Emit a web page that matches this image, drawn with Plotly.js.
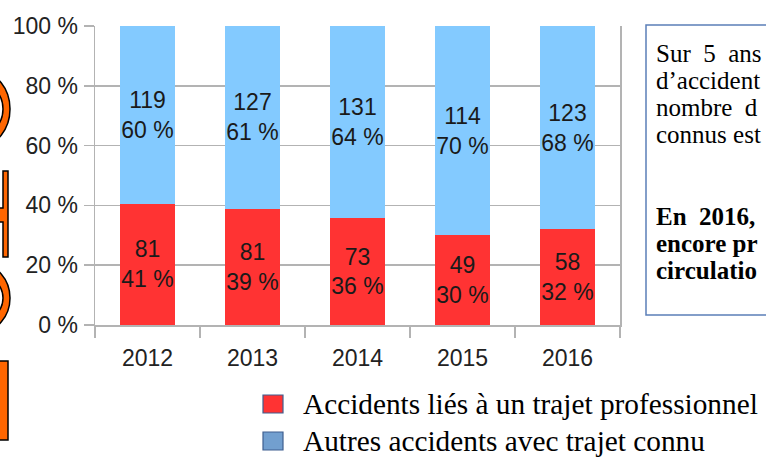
<!DOCTYPE html>
<html>
<head>
<meta charset="utf-8">
<script src="https://cdn.plot.ly/plotly-3.0.1.min.js"></script>
<style>
html,body{margin:0;padding:0;background:#fff;}
#chart{width:766px;height:457px;}
</style>
</head>
<body>
<div id="chart"></div>
<script>
// ---- data ----
const years = ["2012", "2013", "2014", "2015", "2016"];
const proCounts = [81, 81, 73, 49, 58];
const proPct = [41, 39, 36, 30, 32];
const otherCounts = [119, 127, 131, 114, 123];
const otherPct = [60, 61, 64, 70, 68];
const yTicks = [0, 20, 40, 60, 80, 100];
const yTickText = ["0 %", "20 %", "40 %", "60 %", "80 %", "100 %"];
const seriesNames = ["Accidents liés à un trajet professionnel", "Autres accidents avec trajet connu"];
const boxLines1 = ["Sur  5  ans", "d’accident", "nombre  d", "connus est"];
const boxLines2 = ["En  2016,", "encore pr", "circulatio"];

// ---- geometry helpers (pixel -> paper) ----
const L = 95, R = 620, T = 26, B = 325, W = 766, H = 457;
const px = x => (x - L) / (R - L);
const py = y => (B - y) / (B - T);

const redCol = "#ff3333", blueCol = "#83caff", legBlue = "#729fcf";
const sans = "Liberation Sans, Arial, sans-serif";
const serif = "Liberation Serif, Times New Roman, serif";

const traces = [
  {
    type: "bar", x: years, y: proCounts, name: seriesNames[0],
    marker: {color: redCol},
    text: proCounts.map((c, i) => c + "<br>" + proPct[i] + " %"),
    textposition: "inside", insidetextanchor: "middle", textangle: 0,
    constraintext: "none",
    textfont: {family: sans, size: 23, color: "#1a1a1a"},
    hoverinfo: "skip", showlegend: false
  },
  {
    type: "bar", x: years, y: otherCounts, name: seriesNames[1],
    marker: {color: blueCol},
    text: otherCounts.map((c, i) => c + "<br>" + otherPct[i] + " %"),
    textposition: "inside", insidetextanchor: "middle", textangle: 0,
    constraintext: "none",
    textfont: {family: sans, size: 23, color: "#1a1a1a"},
    hoverinfo: "skip", showlegend: false
  }
];

const shapes = [];
const annotations = [];

// text box on the right
shapes.push({type: "rect", xref: "paper", yref: "paper",
  x0: px(646), x1: px(800), y0: py(315), y1: py(25),
  line: {color: "#5b7fb8", width: 1.5}, fillcolor: "rgba(0,0,0,0)"});
boxLines1.forEach((t, i) => annotations.push({
  xref: "paper", yref: "paper", x: px(654), y: py(53 + i * 27),
  xanchor: "left", yanchor: "middle", showarrow: false, text: t,
  font: {family: serif, size: 25, color: "#000"}
}));
boxLines2.forEach((t, i) => annotations.push({
  xref: "paper", yref: "paper", x: px(654), y: py(216 + i * 27),
  xanchor: "left", yanchor: "middle", showarrow: false, text: "<b>" + t + "</b>",
  font: {family: serif, size: 25, color: "#000"}
}));

// legend (drawn manually)
const legCols = [redCol, legBlue];
seriesNames.forEach((n, i) => {
  const cy = 404 + i * 37;
  shapes.push({type: "rect", xref: "paper", yref: "paper",
    x0: px(263), x1: px(283), y0: py(cy + 9), y1: py(cy - 9),
    line: {color: "#3f5f8f", width: 1.2}, fillcolor: legCols[i]});
  annotations.push({xref: "paper", yref: "paper", x: px(301), y: py(cy),
    xanchor: "left", yanchor: "middle", showarrow: false, text: n,
    font: {family: serif, size: 29.3, color: "#000"}});
});

// orange decorative glyph fragments on the left edge
const orange = "#ff6600";
function ring(y0, y1, xr, thick) {
  shapes.push({type: "circle", xref: "paper", yref: "paper",
    x0: px(xr - 60), x1: px(xr), y0: py(y1), y1: py(y0),
    line: {color: "#000", width: 1.5}, fillcolor: orange});
  shapes.push({type: "circle", xref: "paper", yref: "paper",
    x0: px(xr - 60 + thick), x1: px(xr - thick), y0: py(y1 - thick * 1.6), y1: py(y0 + thick * 1.6),
    line: {color: "#000", width: 1.5}, fillcolor: "#fff"});
}
ring(72, 146, 10, 7);
ring(264, 332, 10, 7);
shapes.push({type: "path", xref: "paper", yref: "paper",
  path: `M ${px(-5)} ${py(208)} L ${px(3)} ${py(208)} L ${px(3)} ${py(171)} L ${px(8)} ${py(171)} L ${px(8)} ${py(257)} L ${px(3)} ${py(257)} L ${px(3)} ${py(222)} L ${px(-5)} ${py(222)} Z`,
  line: {color: "#000", width: 1.5}, fillcolor: orange});
shapes.push({type: "rect", xref: "paper", yref: "paper",
  x0: px(-10), x1: px(8), y0: py(440), y1: py(361),
  line: {color: "#000", width: 1.5}, fillcolor: orange});

const layout = {
  width: W, height: H,
  margin: {l: L, r: W - R, t: T, b: H - B, pad: 0},
  paper_bgcolor: "#fff", plot_bgcolor: "#fff",
  barmode: "stack", barnorm: "percent", bargap: 0.476,
  showlegend: false,
  font: {family: sans, color: "#222"},
  xaxis: {
    type: "category", tickson: "boundaries", ticks: "outside", ticklen: 11,
    tickcolor: "#b3b3b3", tickwidth: 1.5,
    showline: true, linecolor: "#b3b3b3", linewidth: 1.5,
    showgrid: false, zeroline: false,
    tickfont: {family: sans, size: 23, color: "#222"}, ticklabelstandoff: 12,
    fixedrange: true
  },
  yaxis: {
    range: [0, 100], tickmode: "array", tickvals: yTicks, ticktext: yTickText,
    ticks: "outside", ticklen: 10, tickcolor: "#b3b3b3", tickwidth: 1.5,
    showline: true, mirror: true, linecolor: "#b3b3b3", linewidth: 1.5,
    showgrid: true, gridcolor: "#b3b3b3", gridwidth: 1.5, zeroline: false,
    tickfont: {family: sans, size: 23, color: "#222"}, ticklabelstandoff: 1,
    fixedrange: true
  },
  shapes: shapes,
  annotations: annotations
};

Plotly.newPlot("chart", traces, layout, {staticPlot: true, displayModeBar: false});
</script>
</body>
</html>
